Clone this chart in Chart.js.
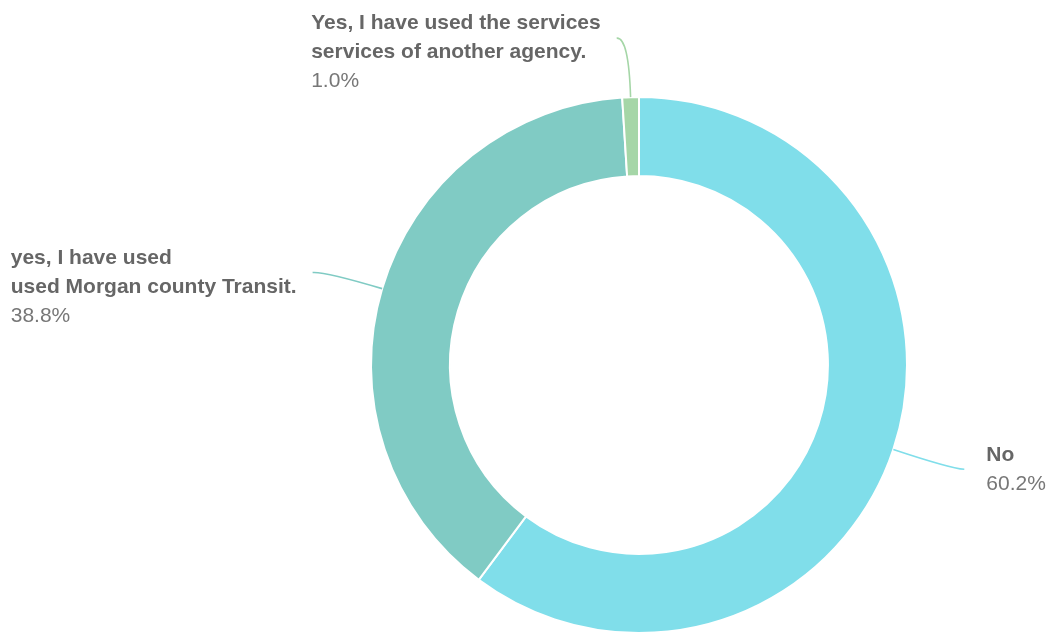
<!DOCTYPE html>
<html>
<head>
<meta charset="utf-8">
<script src="https://cdn.jsdelivr.net/npm/chart.js@4"></script>
<style>
  html, body { margin: 0; padding: 0; background: #fff; }
  #wrap { width: 1049px; height: 633px; position: relative; }
</style>
</head>
<body>
<div id="wrap"><canvas id="c"></canvas></div>
<script>
const categories = [
  ["No"],
  ["yes, I have used", "used Morgan county Transit."],
  ["Yes, I have used the services", "services of another agency."]
];
const values = [60.2, 38.8, 1.0];
const percentLabels = ["60.2%", "38.8%", "1.0%"];
const colors = ["#80deea", "#80cbc4", "#a5d6a7"];

const leaderPlugin = {
  id: 'leaders',
  afterDatasetsDraw(chart) {
    const ctx = chart.ctx;
    const meta = chart.getDatasetMeta(0);
    const lh = 29;
    const boldFont = 'bold 21px "Liberation Sans", Arial, sans-serif';
    const normFont = '21px "Liberation Sans", Arial, sans-serif';
    meta.data.forEach((arc, i) => {
      const p = arc.getProps(['x', 'y', 'startAngle', 'endAngle', 'outerRadius'], true);
      const mid = (p.startAngle + p.endAngle) / 2;
      const cos = Math.cos(mid), sin = Math.sin(mid);
      const r0 = p.outerRadius;
      const r1 = p.outerRadius + 60;
      const sx = p.x + cos * r0, sy = p.y + sin * r0;
      const cx = p.x + cos * r1, cy = p.y + sin * r1;
      const right = cos >= 0;
      const ex = cx + (right ? 14 : -12);
      const ey = cy + 1;
      ctx.save();
      ctx.strokeStyle = colors[i];
      ctx.lineWidth = 1.6;
      ctx.beginPath();
      ctx.moveTo(sx, sy);
      ctx.quadraticCurveTo(cx, cy, ex, ey);
      ctx.stroke();

      const lines = categories[i];
      ctx.font = boldFont;
      let w = 0;
      lines.forEach(l => { w = Math.max(w, ctx.measureText(l).width); });
      ctx.font = normFont;
      w = Math.max(w, ctx.measureText(percentLabels[i]).width);
      const left = right ? ex + 22 : ex - 16 - w;
      let y = ey - lh / 2;
      ctx.textAlign = 'left';
      ctx.textBaseline = 'middle';
      ctx.font = boldFont;
      ctx.fillStyle = '#666666';
      lines.forEach(l => { ctx.fillText(l, left, y); y += lh; });
      ctx.font = normFont;
      ctx.fillStyle = '#777777';
      ctx.fillText(percentLabels[i], left, y);
      ctx.restore();
    });
  }
};

new Chart(document.getElementById('c'), {
  type: 'doughnut',
  data: {
    labels: categories.map(c => c.join(' ')),
    datasets: [{
      data: values,
      backgroundColor: colors,
      borderColor: '#ffffff',
      borderWidth: 2,
      hoverOffset: 0
    }]
  },
  options: {
    responsive: true,
    maintainAspectRatio: false,
    animation: false,
    cutout: '70.5%',
    radius: 268,
    layout: { padding: { top: 97, bottom: 0, left: 371, right: 142 } },
    plugins: {
      legend: { display: false },
      tooltip: { enabled: false }
    }
  },
  plugins: [leaderPlugin]
});
</script>
</body>
</html>
